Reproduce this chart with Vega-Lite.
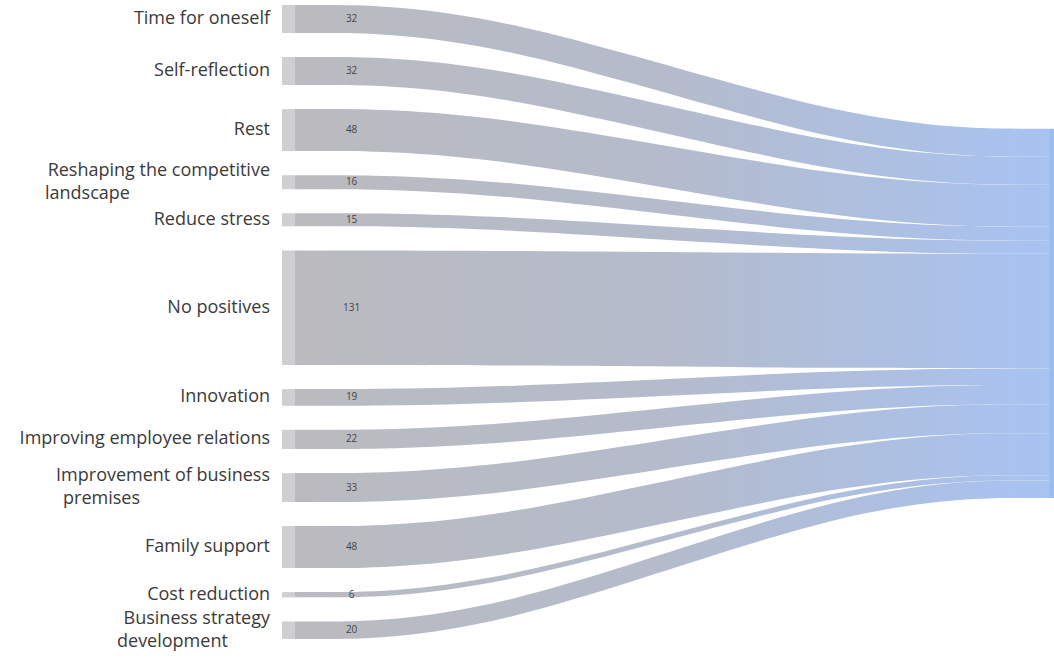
{
  "$schema": "https://vega.github.io/schema/vega-lite/v6.json",
  "width": 1054,
  "height": 658,
  "padding": 0,
  "autosize": "none",
  "background": "white",
  "config": {"view": {"stroke": null}},
  "data": {
    "values": [
      {"order": 1, "source": "Time for oneself", "line1": "Time for oneself", "line2": "", "target": "Positives", "value": 32},
      {"order": 2, "source": "Self-reflection", "line1": "Self-reflection", "line2": "", "target": "Positives", "value": 32},
      {"order": 3, "source": "Rest", "line1": "Rest", "line2": "", "target": "Positives", "value": 48},
      {"order": 4, "source": "Reshaping the competitive landscape", "line1": "Reshaping the competitive", "line2": "landscape", "target": "Positives", "value": 16},
      {"order": 5, "source": "Reduce stress", "line1": "Reduce stress", "line2": "", "target": "Positives", "value": 15},
      {"order": 6, "source": "No positives", "line1": "No positives", "line2": "", "target": "Positives", "value": 131},
      {"order": 7, "source": "Innovation", "line1": "Innovation", "line2": "", "target": "Positives", "value": 19},
      {"order": 8, "source": "Improving employee relations", "line1": "Improving employee relations", "line2": "", "target": "Positives", "value": 22},
      {"order": 9, "source": "Improvement of business premises", "line1": "Improvement of business", "line2": "premises", "target": "Positives", "value": 33},
      {"order": 10, "source": "Family support", "line1": "Family support", "line2": "", "target": "Positives", "value": 48},
      {"order": 11, "source": "Cost reduction", "line1": "Cost reduction", "line2": "", "target": "Positives", "value": 6},
      {"order": 12, "source": "Business strategy development", "line1": "Business strategy", "line2": "development", "target": "Positives", "value": 20}
    ]
  },
  "transform": [
    {"window": [{"op": "sum", "field": "value", "as": "cum"}, {"op": "row_number", "as": "idx"}], "sort": [{"field": "order", "order": "ascending"}], "frame": [null, 0]},
    {"calculate": "5.7 + datum.cum - datum.value + (datum.idx - 1) * 27.5", "as": "ys0"},
    {"calculate": "datum.ys0 + datum.value", "as": "ys1"},
    {"calculate": "147 + datum.cum - datum.value", "as": "yt0"},
    {"calculate": "147 + datum.cum", "as": "yt1"},
    {"calculate": "(datum.ys0 + datum.ys1) / 2", "as": "ymid"}
  ],
  "layer": [
    {
      "transform": [
        {"fold": ["ys0", "ys1", "yt0", "yt1"], "as": ["key", "kv"]},
        {"calculate": "datum.key == 'ys0' ? 0 : datum.key == 'ys1' ? 0.25 : datum.key == 'yt0' ? 0.75 : 1", "as": "px"},
        {"calculate": "(datum.key == 'ys0' || datum.key == 'ys1') ? datum.ys0 : datum.yt0", "as": "ya"},
        {"calculate": "(datum.key == 'ys0' || datum.key == 'ys1') ? datum.ys1 : datum.yt1", "as": "yb"}
      ],
      "mark": {
        "type": "area",
        "interpolate": "basis",
        "opacity": 1,
        "color": {
          "gradient": "linear",
          "x1": 0, "x2": 1, "y1": 0, "y2": 0,
          "stops": [
            {"offset": 0, "color": "#bbbbbf"},
            {"offset": 0.5, "color": "#b4bbcc"},
            {"offset": 1, "color": "#a8c3f2"}
          ]
        }
      },
      "encoding": {
        "x": {"field": "px", "type": "quantitative", "scale": {"domain": [0, 1], "range": [295, 1050], "nice": false, "zero": false}, "axis": null},
        "y": {"field": "ya", "type": "quantitative", "scale": {"domain": [0, 752], "range": [0, 658], "nice": false, "zero": false}, "axis": null},
        "y2": {"field": "yb"},
        "detail": {"field": "source", "type": "nominal"}
      }
    },
    {
      "mark": {"type": "rect", "color": "#cfcfd1"},
      "encoding": {
        "x": {"datum": -0.0172, "type": "quantitative"},
        "x2": {"datum": 0},
        "y": {"field": "ys0", "type": "quantitative"},
        "y2": {"field": "ys1"}
      }
    },
    {
      "transform": [
        {"aggregate": [{"op": "sum", "field": "value", "as": "total"}]},
        {"calculate": "147", "as": "t0"},
        {"calculate": "147 + datum.total", "as": "t1"}
      ],
      "mark": {"type": "rect", "color": "#9dbbec"},
      "encoding": {
        "x": {"datum": 0.9995, "type": "quantitative"},
        "x2": {"datum": 1.0053},
        "y": {"field": "t0", "type": "quantitative"},
        "y2": {"field": "t1"}
      }
    },
    {
      "transform": [{"filter": "datum.line2 == ''"}],
      "mark": {"type": "text", "align": "right", "baseline": "middle", "font": "Open Sans", "fontSize": 18, "color": "#3a3a3a"},
      "encoding": {
        "x": {"datum": -0.0331, "type": "quantitative"},
        "y": {"field": "ymid", "type": "quantitative"},
        "text": {"field": "line1"}
      }
    },
    {
      "transform": [{"filter": "datum.line2 != ''"}, {"calculate": "datum.ymid - 13", "as": "yl1"}],
      "mark": {"type": "text", "align": "right", "baseline": "middle", "font": "Open Sans", "fontSize": 18, "color": "#3a3a3a"},
      "encoding": {
        "x": {"datum": -0.0331, "type": "quantitative"},
        "y": {"field": "yl1", "type": "quantitative"},
        "text": {"field": "line1"}
      }
    },
    {
      "transform": [
        {"filter": "datum.line2 != ''"},
        {"calculate": "datum.ymid + 13", "as": "yl2"},
        {"calculate": "-0.0331 - length(datum.line1) * 9.0 / 755", "as": "xl2"}
      ],
      "mark": {"type": "text", "align": "left", "baseline": "middle", "font": "Open Sans", "fontSize": 18, "color": "#3a3a3a"},
      "encoding": {
        "x": {"field": "xl2", "type": "quantitative"},
        "y": {"field": "yl2", "type": "quantitative"},
        "text": {"field": "line2"}
      }
    },
    {
      "mark": {"type": "text", "align": "center", "baseline": "middle", "font": "Open Sans", "fontSize": 10, "color": "#444444"},
      "encoding": {
        "x": {"datum": 0.075, "type": "quantitative"},
        "y": {"field": "ymid", "type": "quantitative"},
        "text": {"field": "value", "type": "quantitative"}
      }
    }
  ]
}
